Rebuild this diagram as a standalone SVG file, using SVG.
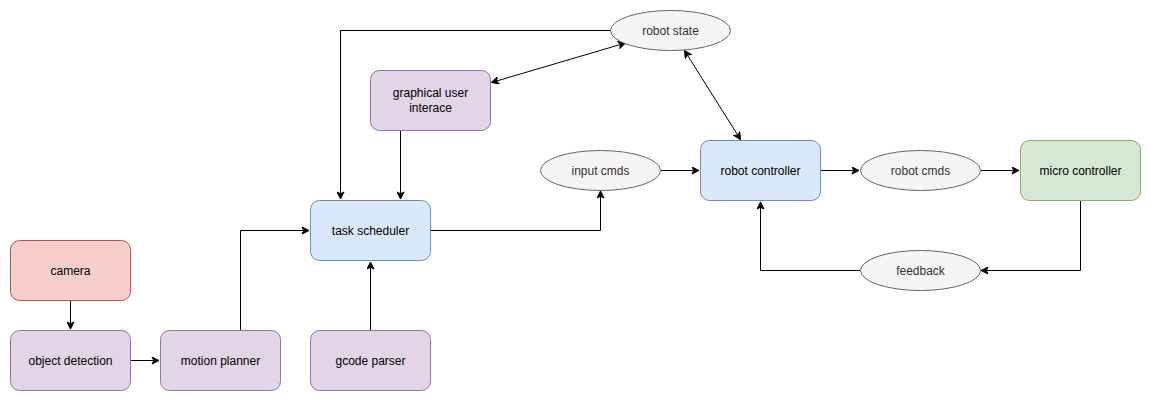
<svg xmlns="http://www.w3.org/2000/svg" width="1151" height="401" viewBox="0 0 1151 401">
  <defs>
    <marker id="arrow" viewBox="-8 -4 9 8" refX="0" refY="0" markerWidth="9" markerHeight="8" markerUnits="userSpaceOnUse" orient="auto-start-reverse">
      <path d="M0,0 L-7,-3.5 L-5.25,0 L-7,3.5 Z" fill="#000" stroke="#000" stroke-width="1"/>
    </marker>
    <style>
      .box { stroke-width: 1; }
      .red { fill: #f8cecc; stroke: #b85450; }
      .purple { fill: #e1d5e7; stroke: #9673a6; }
      .blue { fill: #dae8fc; stroke: #6c8ebf; }
      .green { fill: #d5e8d4; stroke: #82b366; }
      .ell { fill: #f5f5f5; stroke: #666666; stroke-width: 1; }
      .lbl { font-family: "Liberation Sans", Arial, sans-serif; font-size: 12px; fill: #000; text-anchor: middle; dominant-baseline: central; }
      .ell-lbl { fill: #333333; }
      .edge { fill: none; stroke: #000; stroke-width: 1; }
    </style>
  </defs>
  <rect width="1151" height="401" fill="#ffffff"/>

  <g id="connectors">
    <path class="edge" d="M70.5,300.5 V329" marker-end="url(#arrow)"/>
    <path class="edge" d="M130.5,360.5 H159" marker-end="url(#arrow)"/>
    <path class="edge" d="M240.5,330.5 V230.5 H309" marker-end="url(#arrow)"/>
    <path class="edge" d="M370.5,330.5 V262" marker-end="url(#arrow)"/>
    <path class="edge" d="M400.5,130.5 V199" marker-end="url(#arrow)"/>
    <path class="edge" d="M610.5,30.5 H340.5 V199" marker-end="url(#arrow)"/>
    <path class="edge" d="M430.5,230.5 H600.5 V191" marker-end="url(#arrow)"/>
    <path class="edge" d="M660.5,170.5 H699" marker-end="url(#arrow)"/>
    <path class="edge" d="M820.5,170.5 H859" marker-end="url(#arrow)"/>
    <path class="edge" d="M980.5,170.5 H1019" marker-end="url(#arrow)"/>
    <path class="edge" d="M1080.5,200.5 V270.5 H981" marker-end="url(#arrow)"/>
    <path class="edge" d="M860.5,270.5 H760.5 V202" marker-end="url(#arrow)"/>
    <path class="edge" d="M491.5,82.5 L625.5,43" marker-start="url(#arrow)" marker-end="url(#arrow)"/>
    <path class="edge" d="M684.5,50.5 L740.5,139.5" marker-start="url(#arrow)" marker-end="url(#arrow)"/>
  </g>

  <g id="camera">
    <rect class="box red" x="10.5" y="240.5" width="120" height="60" rx="9"/>
    <text class="lbl" x="70.5" y="270.5">camera</text>
  </g>
  <g id="object-detection">
    <rect class="box purple" x="10.5" y="330.5" width="120" height="60" rx="9"/>
    <text class="lbl" x="70.5" y="360.5">object detection</text>
  </g>
  <g id="motion-planner">
    <rect class="box purple" x="160.5" y="330.5" width="120" height="60" rx="9"/>
    <text class="lbl" x="220.5" y="360.5">motion planner</text>
  </g>
  <g id="gcode-parser">
    <rect class="box purple" x="310.5" y="330.5" width="120" height="60" rx="9"/>
    <text class="lbl" x="370.5" y="360.5">gcode parser</text>
  </g>
  <g id="task-scheduler">
    <rect class="box blue" x="310.5" y="200.5" width="120" height="60" rx="9"/>
    <text class="lbl" x="370.5" y="230.5">task scheduler</text>
  </g>
  <g id="graphical-user-interace">
    <rect class="box purple" x="370.5" y="70.5" width="120" height="60" rx="9"/>
    <text class="lbl" x="430.5" y="93">graphical user</text>
    <text class="lbl" x="430.5" y="108">interace</text>
  </g>
  <g id="robot-controller">
    <rect class="box blue" x="700.5" y="140.5" width="120" height="60" rx="9"/>
    <text class="lbl" x="760.5" y="170.5">robot controller</text>
  </g>
  <g id="micro-controller">
    <rect class="box green" x="1020.5" y="140.5" width="120" height="60" rx="9"/>
    <text class="lbl" x="1080.5" y="170.5">micro controller</text>
  </g>
  <g id="robot-state">
    <ellipse class="ell" cx="670.5" cy="30.5" rx="60" ry="20"/>
    <text class="lbl ell-lbl" x="670.5" y="30.5">robot state</text>
  </g>
  <g id="input-cmds">
    <ellipse class="ell" cx="600.5" cy="170.5" rx="60" ry="20"/>
    <text class="lbl ell-lbl" x="600.5" y="170.5">input cmds</text>
  </g>
  <g id="robot-cmds">
    <ellipse class="ell" cx="920.5" cy="170.5" rx="60" ry="20"/>
    <text class="lbl ell-lbl" x="920.5" y="170.5">robot cmds</text>
  </g>
  <g id="feedback">
    <ellipse class="ell" cx="920.5" cy="270.5" rx="60" ry="20"/>
    <text class="lbl ell-lbl" x="920.5" y="270.5">feedback</text>
  </g>
</svg>
